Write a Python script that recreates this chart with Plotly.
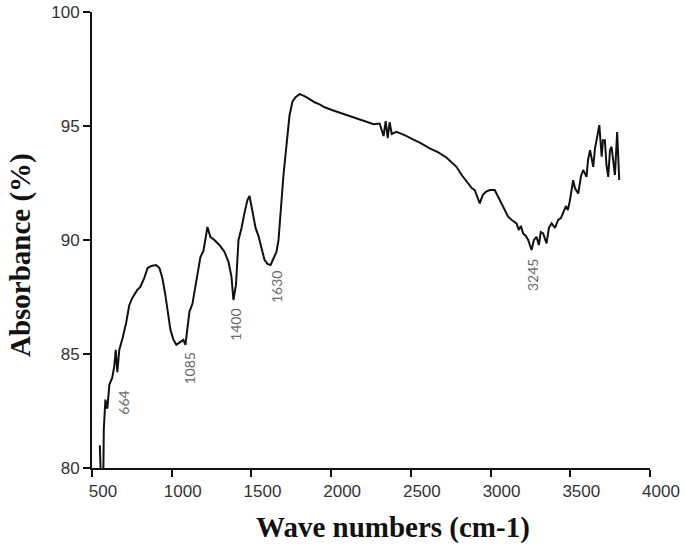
import plotly.graph_objects as go

# FTIR spectrum
wavenumber = [
    549, 555, 571, 574, 584, 596, 609, 627, 640, 649, 659, 671, 692, 714, 734,
    753, 784, 803, 828, 849, 872, 902, 923, 941, 960, 975, 992, 1011, 1029,
    1055, 1073, 1086, 1098, 1111, 1130, 1155, 1180, 1199, 1224, 1243, 1268,
    1299, 1331, 1356, 1375, 1387, 1403, 1419, 1438, 1456, 1475, 1488, 1500,
    1513, 1526, 1544, 1563, 1582, 1601, 1620, 1639, 1657, 1670, 1683, 1701,
    1720, 1739, 1758, 1777, 1802, 1833, 1865, 1896, 1928, 1959, 2009, 2066,
    2116, 2166, 2216, 2267, 2304, 2329, 2342, 2355, 2367, 2380, 2409, 2461,
    2513, 2562, 2618, 2669, 2723, 2750, 2786, 2819, 2859, 2882, 2901, 2920,
    2932, 2951, 2970, 2995, 3026, 3045, 3069, 3089, 3110, 3133, 3163, 3177,
    3190, 3204, 3221, 3236, 3257, 3272, 3288, 3303, 3315, 3330, 3351, 3366,
    3383, 3404, 3424, 3441, 3456, 3473, 3485, 3498, 3518, 3529, 3550, 3567,
    3581, 3602, 3611, 3624, 3644, 3655, 3665, 3682, 3697, 3705, 3717, 3727,
    3738, 3749, 3759, 3770, 3780, 3794, 3807,
]
absorbance = [
    81.0, 79.7, 79.7, 81.7, 83.0, 82.6, 83.66, 83.96, 84.48, 85.18, 84.2,
    85.18, 85.7, 86.36, 87.15, 87.46, 87.81, 87.94, 88.34, 88.77, 88.86, 88.9,
    88.77, 88.34, 87.59, 86.93, 86.06, 85.62, 85.4, 85.53, 85.62, 85.4, 86.06,
    86.85, 87.2, 88.25, 89.25, 89.52, 90.57, 90.13, 90.0, 89.78, 89.48, 89.04,
    88.38, 87.37, 88.03, 90.0, 90.53, 91.18, 91.75, 91.93, 91.53, 91.1, 90.53,
    90.18, 89.65, 89.13, 88.95, 88.9, 89.2, 89.48, 90.0, 91.31, 92.85, 94.16,
    95.47, 96.08, 96.26, 96.4, 96.31, 96.18, 96.04, 95.95, 95.82, 95.69, 95.56,
    95.43, 95.34, 95.21, 95.08, 95.11, 94.56, 95.21, 94.47, 95.17, 94.65,
    94.74, 94.6, 94.41, 94.25, 94.02, 93.85, 93.62, 93.46, 93.21, 92.85,
    92.48, 92.28, 92.19, 91.84, 91.61, 91.97, 92.11, 92.19, 92.19, 91.93,
    91.61, 91.31, 91.02, 90.88, 90.73, 90.44, 90.62, 90.29, 90.18, 90.0,
    89.56, 90.0, 90.14, 89.78, 90.35, 90.29, 89.85, 90.53, 90.73, 90.53,
    90.88, 90.96, 91.24, 91.49, 91.31, 91.75, 92.62, 92.28, 92.04, 92.8,
    93.07, 92.77, 93.5, 93.94, 93.21, 94.03, 94.38, 95.04, 93.65, 94.38,
    94.38, 93.28, 92.77, 93.94, 94.09, 93.5, 92.85, 94.74, 92.63,
]

# peak labels (text, x, y)
peak_labels = ["664", "1085", "1400", "1630", "3245"]
peak_x = [692, 1111, 1404, 1656, 3267]
peak_y = [82.85, 84.38, 86.28, 87.95, 88.47]

x_ticks = [500, 1000, 1500, 2000, 2500, 3000, 3500, 4000]
y_ticks = [80, 85, 90, 95, 100]

fig = go.Figure()

fig.add_trace(
    go.Scatter(
        x=wavenumber,
        y=absorbance,
        mode="lines",
        line=dict(color="#111111", width=2),
        showlegend=False,
    )
)

for label, px_, py_ in zip(peak_labels, peak_x, peak_y):
    fig.add_annotation(
        x=px_, y=py_,
        text=label,
        textangle=-90,
        showarrow=False,
        font=dict(family="Lato", size=14, color="#6a6a6a"),
    )

# axis titles placed as annotations to match the reference offsets
fig.add_annotation(
    text="<b>Wave numbers (cm-1)</b>",
    xref="paper", yref="paper",
    x=0.539, y=-0.131,
    xanchor="center", yanchor="middle",
    showarrow=False,
    font=dict(family="Liberation Serif", size=29, color="#111111"),
)
fig.add_annotation(
    text="<b>Absorbance (%)</b>",
    xref="paper", yref="paper",
    x=-0.129, y=0.467,
    xanchor="center", yanchor="middle",
    textangle=-90,
    showarrow=False,
    font=dict(family="Liberation Serif", size=29, color="#111111"),
)

axis_style = dict(
    showgrid=False,
    zeroline=False,
    showline=True,
    linecolor="#111111",
    linewidth=2,
    ticks="outside",
    ticklen=7,
    tickwidth=2,
    tickcolor="#111111",
    automargin=False,
    tickfont=dict(family="Liberation Sans", size=17, color="#333333"),
)

fig.update_xaxes(
    range=[500, 4000],
    tickvals=x_ticks,
    ticklabelshift=11,
    **axis_style,
)
fig.update_yaxes(
    range=[80, 100],
    tickvals=y_ticks,
    **axis_style,
)

fig.update_layout(
    width=685,
    height=551,
    margin=dict(l=92, r=35, t=12, b=83),
    plot_bgcolor="white",
    paper_bgcolor="white",
)

fig.write_html(
    "out.html",
    config={"displayModeBar": False},
    post_script="document.body.style.margin='0';",
)
